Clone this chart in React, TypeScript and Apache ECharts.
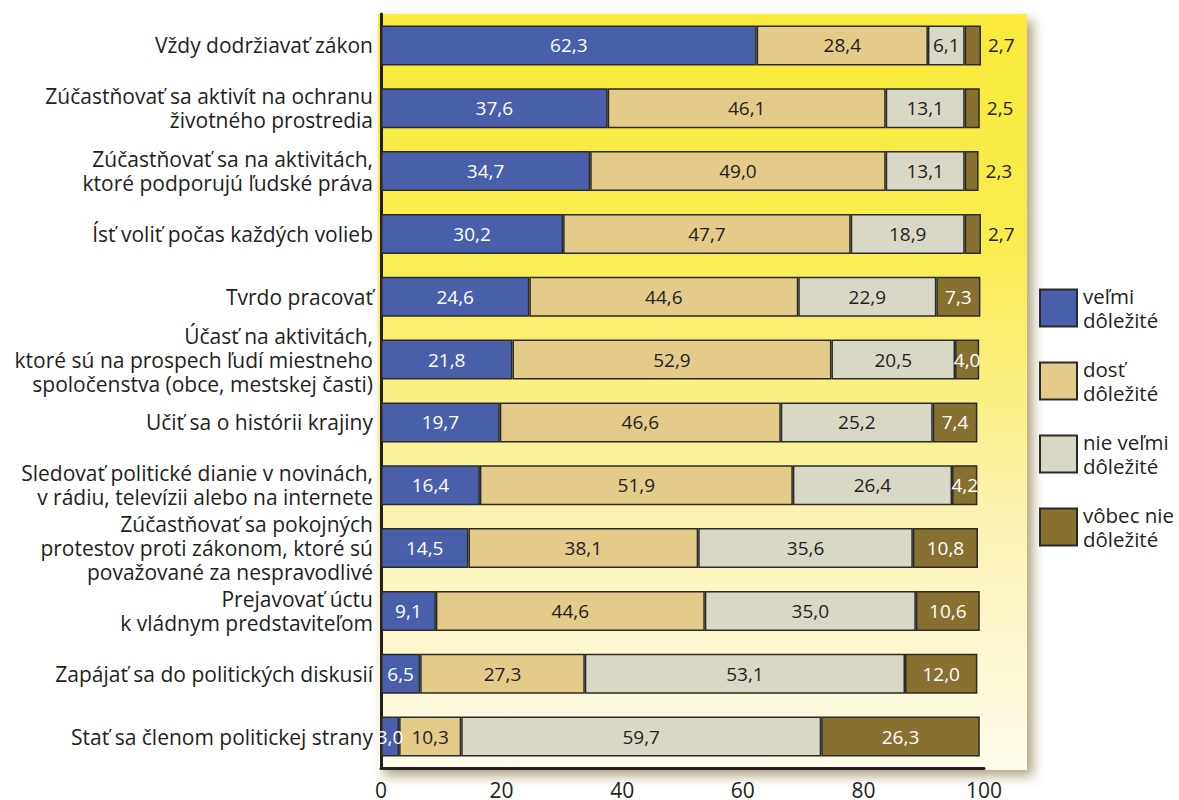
import React, { useEffect, useRef } from "react";
import * as echarts from "echarts";

const categories = [
  "Vždy dodržiavať zákon",
  "Zúčastňovať sa aktivít na ochranu\nživotného prostredia",
  "Zúčastňovať sa na aktivitách,\nktoré podporujú ľudské práva",
  "Ísť voliť počas každých volieb",
  "Tvrdo pracovať",
  "Účasť na aktivitách,\nktoré sú na prospech ľudí miestneho\nspoločenstva (obce, mestskej časti)",
  "Učiť sa o histórii krajiny",
  "Sledovať politické dianie v novinách,\nv rádiu, televízii alebo na internete",
  "Zúčastňovať sa pokojných\nprotestov proti zákonom, ktoré sú\npovažované za nespravodlivé",
  "Prejavovať úctu\nk vládnym predstaviteľom",
  "Zapájať sa do politických diskusií",
  "Stať sa členom politickej strany",
];

const velmi = [62.3, 37.6, 34.7, 30.2, 24.6, 21.8, 19.7, 16.4, 14.5, 9.1, 6.5, 3.0];
const dost = [28.4, 46.1, 49.0, 47.7, 44.6, 52.9, 46.6, 51.9, 38.1, 44.6, 27.3, 10.3];
const nieVelmi = [6.1, 13.1, 13.1, 18.9, 22.9, 20.5, 25.2, 26.4, 35.6, 35.0, 53.1, 59.7];
const vobecNie = [2.7, 2.5, 2.3, 2.7, 7.3, 4.0, 7.4, 4.2, 10.8, 10.6, 12.0, 26.3];

const seriesNames = ["veľmi dôležité", "dosť dôležité", "nie veľmi dôležité", "vôbec nie dôležité"];
const legendLabels = ["veľmi\ndôležité", "dosť\ndôležité", "nie veľmi\ndôležité", "vôbec nie\ndôležité"];
const xTicks = [0, 20, 40, 60, 80, 100];

const colors = ["#4A5FAA", "#E3CB8A", "#D9D8C6", "#877130"];
const labelColors = ["#ffffff", "#231F20", "#231F20", "#ffffff"];
const FONT = "'Open Sans', sans-serif";

const fmt = (v: number) => v.toFixed(1).replace(".", ",");

export default function App() {
  const ref = useRef<HTMLDivElement>(null);
  useEffect(() => {
    if (!ref.current) return;
    const chart = echarts.init(ref.current, undefined, { renderer: "svg" });
    const dataSets = [velmi, dost, nieVelmi, vobecNie];
    const series = dataSets.map((arr, si) => ({
      name: seriesNames[si],
      type: "bar",
      stack: "total",
      barWidth: 40,
      itemStyle: { color: colors[si], borderColor: "#2a2a2a", borderWidth: 1.5 },
      label: {
        show: true,
        position: "inside",
        color: labelColors[si],
        fontFamily: FONT,
        fontSize: 19,
        formatter: (p: any) => fmt(p.value),
      },
      data: arr.map((v) =>
        si === 3 && v < 3
          ? { value: v, label: { position: "right", distance: 7, color: "#231F20" } }
          : v
      ),
    }));
    chart.setOption({
      animation: false,
      textStyle: { fontFamily: FONT },
      graphic: [
        {
          type: "rect",
          z: 0,
          shape: { x: 378, y: 14, width: 649, height: 756 },
          style: {
            fill: new echarts.graphic.LinearGradient(0, 0, 0, 1, [
              { offset: 0, color: "#F9EA3A" },
              { offset: 0.3, color: "#F9EC4E" },
              { offset: 0.65, color: "#FBF3AE" },
              { offset: 1, color: "#FEFBEC" },
            ]),
            shadowBlur: 12,
            shadowOffsetX: 6,
            shadowOffsetY: 6,
            shadowColor: "rgba(110,90,30,0.55)",
          },
        },
      ],
      legend: {
        orient: "vertical",
        left: 1034,
        top: 279,
        itemWidth: 37,
        itemHeight: 37,
        itemGap: 25,
        icon: "rect",
        data: seriesNames,
        formatter: (name: string) => legendLabels[seriesNames.indexOf(name)],
        textStyle: { fontFamily: FONT, fontSize: 20.5, lineHeight: 24, color: "#231F20", padding: [0, 0, 0, 1] },
      },
      grid: { left: 381, top: 14, width: 603, height: 754, containLabel: false },
      xAxis: {
        type: "value",
        min: 0,
        max: 100,
        interval: 20,
        axisLine: { show: true, lineStyle: { color: "#231F20", width: 3 } },
        axisTick: { show: false },
        splitLine: { show: false },
        axisLabel: {
          fontFamily: FONT,
          fontSize: 21,
          color: "#231F20",
          margin: 11,
          formatter: (v: number) => (xTicks.includes(v) ? String(v) : ""),
        },
      },
      yAxis: {
        type: "category",
        inverse: true,
        data: categories,
        axisLine: { show: true, lineStyle: { color: "#231F20", width: 3 } },
        axisTick: { show: false },
        axisLabel: {
          fontFamily: FONT,
          fontSize: 21,
          lineHeight: 24,
          color: "#231F20",
          margin: 8,
          align: "right",
        },
      },
      series,
    });
    return () => chart.dispose();
  }, []);
  return <div ref={ref} style={{ width: 1179, height: 800, position: "absolute", left: 0, top: 0 }} />;
}
